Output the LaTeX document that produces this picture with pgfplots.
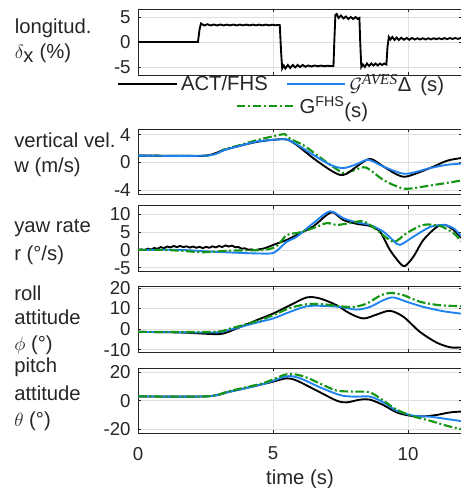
\documentclass[border=0pt]{standalone}
\usepackage{pgfplots}
\pgfplotsset{compat=1.18}
\usepackage{fontspec}
\setmainfont{Liberation Sans}
\newfontfamily\serifit{Liberation Serif}
\definecolor{mblue}{RGB}{30,130,240}
\definecolor{mgreen}{RGB}{20,150,20}
\definecolor{axgray}{RGB}{38,38,38}
\pgfplotsset{
 myax/.style={
  scale only axis, width=243pt, xmin=0, xmax=12,
  xtick={0,5,10}, xticklabels={},
  grid=major, major grid style={black!12, line width=0.5pt},
  axis line style={axgray, line width=0.7pt},
  tick style={axgray, line width=0.5pt},
  major tick length=2.5pt,
  tick align=inside,
  ticklabel style={font=\fontsize{14}{15}\selectfont, text=axgray},
  /pgf/number format/assume math mode=true,
  yticklabel style={xshift=-2pt},
  xticklabel style={yshift=-7pt},
  anchor=south west,
 },
 bl/.style={black, line width=1.4pt},
 bu/.style={mblue, line width=1.4pt},
 gr/.style={mgreen, line width=1.6pt, dash pattern=on 6.5pt off 2pt on 1.5pt off 2pt},
 leg/.style={legend style={draw=none, fill=none, font=\fontsize{15.2}{16}\selectfont, text=axgray,
   inner sep=0pt, nodes={inner sep=2.5pt}, /tikz/every even column/.append style={column sep=11pt}},
   legend image code/.code={\draw[##1] (0pt,0pt) -- (44pt,0pt);}},
}
\newcommand{\lbl}[3]{\node[anchor=west, inner sep=0pt, text=axgray, font=\fontsize{15.2}{16}\selectfont] at (#1,#2) {#3};}
\begin{document}
\begin{tikzpicture}
\path[use as bounding box] (0,0) rectangle (345pt,366pt);

% labels
\lbl{11pt}{345pt}{longitud.}
\lbl{11pt}{326.25pt}{$\delta_{\textrm{x}}$ (\%)}
\lbl{10.5pt}{261pt}{vertical vel.}
\lbl{10.5pt}{240.75pt}{w (m/s)}
\lbl{10.5pt}{195pt}{yaw rate}
\lbl{10.5pt}{174.75pt}{r (°/s)}
\lbl{10.5pt}{146.25pt}{roll}
\lbl{10.5pt}{128.25pt}{attitude}
\lbl{10.5pt}{107.25pt}{$\phi$ (°)}
\lbl{10.5pt}{90.75pt}{pitch}
\lbl{10.5pt}{71.25pt}{attitude}
\lbl{10.5pt}{50.25pt}{$\theta$ (°)}

% 1: longitudinal stick
\begin{axis}[myax, at={(103.5pt,309.75pt)}, height=49.5pt, ymin=-6.6, ymax=6.6, ytick={-5,0,5},
  leg, legend columns=2, legend style={at={(-0.065,-0.136)}, anchor=west}]
\addplot[bl] coordinates {(0,0) (2.22,0) (2.28,2.5) (2.33,3.7) (2.45,3.3) (2.57,3.55) (2.69,3.3) (2.81,3.5) (2.93,3.3) (3.05,3.5) (3.17,3.32) (3.29,3.48) (3.41,3.32) (3.53,3.48) (3.65,3.32) (3.77,3.48) (3.89,3.33) (4.01,3.47) (4.13,3.33) (4.25,3.47) (4.37,3.33) (4.49,3.47) (4.61,3.33) (4.73,3.47) (4.85,3.33) (4.97,3.45) (5.09,3.35) (5.21,3.4) (5.25,3.4) (5.30,-2) (5.34,-5.3) (5.40,-4.7) (5.46,-5.3) (5.55,-4.6) (5.64,-5.2) (5.73,-4.6) (5.82,-5.1) (5.91,-4.6) (6.0,-5.0) (6.1,-4.6) (6.2,-4.95) (6.3,-4.7) (6.42,-4.9) (6.54,-4.7) (6.66,-4.85) (6.78,-4.72) (6.9,-4.85) (7.02,-4.75) (7.14,-4.8) (7.24,-4.78) (7.27,0) (7.31,5.4) (7.36,5.6) (7.43,4.8) (7.52,5.3) (7.61,4.7) (7.7,5.1) (7.79,4.6) (7.88,5.0) (7.97,4.6) (8.06,5.0) (8.14,4.6) (8.2,4.8) (8.23,0) (8.27,-5.0) (8.33,-4.5) (8.4,-5.0) (8.48,-4.3) (8.56,-4.8) (8.64,-4.3) (8.72,-4.7) (8.8,-4.3) (8.88,-4.7) (8.96,-4.3) (9.04,-4.6) (9.12,-4.3) (9.2,-4.5) (9.24,-1) (9.29,1.0) (9.35,0.5) (9.42,1.0) (9.5,0.4) (9.58,0.9) (9.66,0.4) (9.75,0.85) (9.85,0.45) (9.95,0.8) (10.05,0.45) (10.15,0.8) (10.25,0.5) (10.35,0.75) (10.45,0.5) (10.55,0.75) (10.65,0.5) (10.75,0.75) (10.85,0.52) (10.95,0.75) (11.05,0.55) (11.15,0.75) (11.25,0.55) (11.35,0.78) (11.45,0.58) (11.55,0.78) (11.65,0.6) (11.75,0.8) (11.85,0.62) (11.95,0.8) (12,0.7)};
\addlegendentry{ACT/FHS}
\addlegendimage{bu}
\addlegendentry{$\mathcal{G}$\textsuperscript{\fontsize{11.5}{12}\serifit\itshape AVES}Δ\, (s)}
\end{axis}

% 2: vertical velocity
\begin{axis}[myax, at={(103.5pt,220.5pt)}, height=48.75pt, ymin=-4.5, ymax=4.8, ytick={-4,0,4},
  leg, legend style={at={(0.30,1.354)}, anchor=west}]
\addlegendimage{gr}
\addlegendentry{G\textsuperscript{FHS}\raisebox{-3pt}{(s)}}
\addplot[gr, smooth] coordinates {(0,1.0) (2.54,1.0) (3.2,1.9) (3.78,2.5) (4.4,3.2) (5.0,3.75) (5.44,4.05) (5.63,3.4) (6.12,2.5) (6.62,1.1) (7.11,-0.3) (7.6,-1.5) (7.85,-1.3) (8.35,-0.67) (8.59,-1.05) (9.09,-2.5) (9.58,-3.4) (9.95,-3.76) (10.81,-3.3) (11.93,-2.6) (12,-2.55)};
\addplot[bl, smooth] coordinates {(0,1.0) (1.5,0.97) (2.54,1.0) (3.2,1.8) (3.78,2.4) (4.4,2.95) (5.0,3.25) (5.5,3.3) (5.88,2.5) (6.49,0.63) (7.11,-1.05) (7.48,-1.76) (7.73,-1.6) (8.1,-0.57) (8.59,0.53) (9.09,-0.57) (9.58,-1.7) (9.95,-2.0) (10.81,-0.8) (11.43,0.24) (11.93,0.62) (12,0.65)};
\addplot[bu, smooth] coordinates {(0,1.0) (2.54,1.0) (3.2,1.8) (3.78,2.4) (4.4,3.0) (5.0,3.25) (5.51,3.3) (5.88,2.6) (6.49,1.1) (7.11,-0.3) (7.6,-0.8) (8.1,-0.23) (8.53,0.39) (9.09,-0.57) (9.89,-1.61) (10.81,-0.8) (11.43,-0.33) (12,-0.15)};
\end{axis}

% 3: yaw rate
\begin{axis}[myax, at={(103.5pt,162.75pt)}, height=49.3pt, ymin=-5.9, ymax=12.5, ytick={-5,0,5,10}]
\addplot[bl] coordinates {(0,0) (0.12,0.15) (0.24,-0.05) (0.36,0.35) (0.48,0.1) (0.6,0.55) (0.72,0.3) (0.84,0.8) (0.96,0.5) (1.08,0.95) (1.2,0.7) (1.32,1.1) (1.44,0.8) (1.56,1.1) (1.68,0.8) (1.8,1.0) (1.92,0.65) (2.04,0.95) (2.16,0.6) (2.28,0.85) (2.4,0.5) (2.52,0.85) (2.64,0.6) (2.76,1.0) (2.88,0.7) (3.0,1.1) (3.12,0.8) (3.24,1.25) (3.36,0.95) (3.48,1.2) (3.6,0.75) (3.72,0.8) (3.84,0.35) (3.96,0.45) (4.08,0.05) (4.2,0.15) (4.32,-0.1) (4.44,0.1)};
\addplot[bl, smooth] coordinates {(4.44,0.1) (4.7,0.5) (5.01,1.4) (5.51,2.8) (5.88,4.2) (6.49,6.6) (6.99,9.8) (7.23,10.5) (7.6,8.4) (8.1,7.3) (8.59,6.7) (8.96,5.1) (9.33,0) (9.7,-3.7) (9.89,-4.5) (10.2,-1.9) (10.57,2.8) (11.06,6.4) (11.37,7.0) (11.68,5.6) (11.93,3.7) (12,3.3)};
\addplot[bu, smooth] coordinates {(0,0) (1.56,0) (2.79,-0.5) (4.02,-0.9) (4.89,-1.0) (5.15,-0.2) (5.51,2.3) (5.88,3.7) (6.49,7.5) (7.11,10.8) (7.6,8.9) (8.1,7.7) (8.59,7.0) (9.09,5.1) (9.46,2.6) (9.7,1.4) (10.2,3.7) (10.81,6.4) (11.31,7.0) (11.68,6.1) (11.93,4.2) (12,3.7)};
\addplot[gr, smooth] coordinates {(0,0) (0.94,0) (1.7,-0.3) (2.42,-0.65) (3.41,-0.2) (4.64,0) (5.14,1.1) (5.51,4.2) (5.88,4.7) (6.49,6.1) (6.99,7.5) (7.36,7.0) (7.85,7.5) (8.35,8.0) (8.84,5.6) (9.46,2.3) (9.95,4.7) (10.57,7.0) (11.19,6.7) (11.68,4.7) (11.93,2.8) (12,2.4)};
\end{axis}

% 4: roll attitude
\begin{axis}[myax, at={(103.5pt,101.5pt)}, height=49.3pt, ymin=-11.4, ymax=20.5, ytick={-10,0,10,20}]
\addplot[bl, smooth] coordinates {(0,-1.3) (1.56,-1.6) (2.79,-2.4) (3.16,-2.1) (3.65,0.3) (4.4,4.4) (5.01,7.6) (5.63,11.6) (6.25,15.4) (6.74,14.9) (7.36,11.6) (7.85,7.6) (8.35,5.2) (8.84,7.1) (9.33,8.9) (9.83,6.0) (10.44,-1.3) (11.06,-6.5) (11.56,-8.8) (11.93,-8.9) (12,-8.9)};
\addplot[bu, smooth] coordinates {(0,-1.3) (2.79,-1.6) (3.41,-0.2) (4.4,3.2) (5.01,5.2) (5.63,8.4) (6.25,11.1) (6.86,11.3) (7.48,10.8) (8.1,9.5) (8.59,10.8) (9.09,14.1) (9.46,15.4) (9.95,13.3) (10.57,10.8) (11.31,8.7) (12,7.5)};
\addplot[gr, smooth] coordinates {(0,-1.3) (2.79,-1.3) (3.41,0.3) (4.4,3.9) (5.01,6.8) (5.63,10.3) (6.25,12.1) (6.86,12.1) (7.48,11.1) (7.98,10.8) (8.47,12.4) (8.96,16.2) (9.33,17.6) (9.83,16.5) (10.44,13.3) (11.19,11.6) (12,11.2)};
\end{axis}

% 5: pitch attitude
\begin{axis}[myax, at={(103.5pt,41.25pt)}, height=48.75pt, ymin=-22.6, ymax=22.8, ytick={-20,0,20},
  xticklabels={0,5,10}, xlabel={time (s)}, xlabel style={font=\fontsize{15.2}{16}\selectfont, text=axgray, yshift=0pt}]
\addplot[bl, smooth] coordinates {(0,3) (2.54,3) (3.41,6.3) (4.64,11.6) (5.01,13.3) (5.51,15.6) (5.88,14.0) (6.62,7.0) (7.36,0) (7.73,-1.2) (8.22,0.7) (8.59,0.7) (9.09,-3.1) (9.58,-8.2) (10.07,-10.5) (10.57,-11.0) (11.06,-10.0) (11.56,-8.2) (12,-7.6)};
\addplot[bu, smooth] coordinates {(0,3) (2.54,3) (3.41,6.3) (4.64,11.6) (5.51,17.0) (6.0,15.6) (6.74,9.3) (7.48,3.9) (7.98,2.8) (8.59,2.8) (9.09,-1.2) (9.58,-7.0) (10.2,-10.5) (10.81,-11.2) (11.43,-12.8) (12,-14.4)};
\addplot[gr, smooth] coordinates {(0,3) (2.54,3) (3.41,6.8) (4.64,12.3) (5.51,18.4) (6.12,17.0) (6.86,10.9) (7.36,7.0) (7.98,6.3) (8.59,5.8) (9.09,0) (9.58,-6.3) (10.2,-11.0) (10.81,-14.0) (11.43,-17.5) (12,-20.0)};
\end{axis}
\end{tikzpicture}
\end{document}
